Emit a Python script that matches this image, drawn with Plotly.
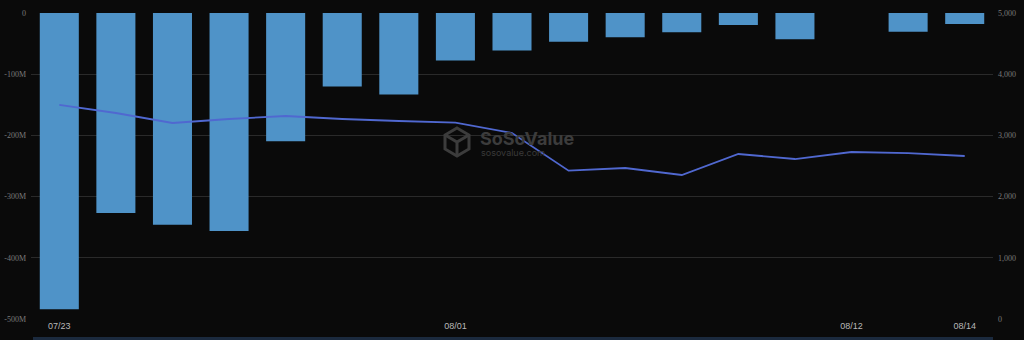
import plotly.graph_objects as go

dates = ["07/23", "07/24", "07/25", "07/26", "07/29", "07/30", "07/31", "08/01",
         "08/02", "08/05", "08/06", "08/07", "08/08", "08/09", "08/12", "08/13", "08/14"]
net_flow = [-484e6, -326.9e6, -346.2e6, -356.3e6, -209.6e6, -120.3e6, -133.3e6, -77.8e6,
            -61.4e6, -46.8e6, -39.7e6, -31.4e6, -19.8e6, -42.8e6, 0, -30.5e6, -18.1e6]
price = [3497, 3366, 3203, 3268, 3317, 3268, 3235, 3208,
         3039, 2423, 2467, 2353, 2696, 2614, 2729, 2712, 2663]

x_ticks = ["07/23", "08/01", "08/12", "08/14"]
left_vals = [0, -100e6, -200e6, -300e6, -400e6, -500e6]
left_text = ["0", "-100M", "-200M", "-300M", "-400M", "-500M"]
right_vals = [0, 1000, 2000, 3000, 4000, 5000]
right_text = ["0", "1,000", "2,000", "3,000", "4,000", "5,000"]

fig = go.Figure()
fig.add_trace(go.Bar(x=dates, y=net_flow, marker=dict(color="#4f93c8", line=dict(width=0)),
                     yaxis="y", hoverinfo="skip"))
fig.add_trace(go.Scatter(x=dates, y=price, mode="lines", line=dict(color="#5068d0", width=1.8),
                         yaxis="y2", hoverinfo="skip"))

fig.update_layout(
    template="none",
    width=1024, height=340,
    margin=dict(l=31, r=31, t=13, b=21, pad=0, autoexpand=False),
    paper_bgcolor="#0a0a0a", plot_bgcolor="#0a0a0a",
    showlegend=False, bargap=0.31,
    xaxis=dict(type="category", tickmode="array", tickvals=x_ticks, ticktext=x_ticks,
               showgrid=False, zeroline=False, showline=False, ticks="", automargin=False,
               tickfont=dict(family="Liberation Sans", size=9, color="#b8b8b8")),
    yaxis=dict(range=[-500e6, 0], tickmode="array", tickvals=left_vals, ticktext=left_text,
               showgrid=True, gridcolor="#2a2a2a", gridwidth=1, zeroline=False, showline=False,
               tickfont=dict(family="Liberation Serif", size=8, color="#7a7a7a"),
               ticks="", ticklabelstandoff=4, automargin=False),
    yaxis2=dict(range=[0, 5000], overlaying="y", side="right", tickmode="array",
                tickvals=right_vals, ticktext=right_text, showgrid=False, zeroline=False,
                showline=False,
                tickfont=dict(family="Liberation Serif", size=8, color="#7a7a7a"),
                ticks="", ticklabelstandoff=4, automargin=False),
)

W, H = 1024 - 62, 340 - 34
def px(xp):
    return (xp - 31) / W
def py(yp):
    return 1 - (yp - 13) / H

# bottom slider strip
fig.add_shape(type="rect", xref="paper", yref="paper", x0=px(33), x1=px(993), y0=py(337), y1=py(341),
              fillcolor="#1b2a3e", line=dict(width=0), layer="below")

# watermark
fig.add_annotation(x=px(478), y=py(138), xref="paper", yref="paper", text="<b>SoSoValue</b>",
                   showarrow=False, font=dict(family="Inter", size=18, color="#3c3c3c"),
                   xanchor="left", yanchor="middle")
fig.add_annotation(x=px(479), y=py(153), xref="paper", yref="paper", text="sosovalue.com",
                   showarrow=False, font=dict(family="Inter", size=9, color="#3a3a3a"),
                   xanchor="left", yanchor="middle")
# cube icon
cx, cy = 457, 142
hexpts = [(cx, cy - 14), (cx + 12, cy - 7), (cx + 12, cy + 7), (cx, cy + 14),
          (cx - 12, cy + 7), (cx - 12, cy - 7)]
path = "M " + " L ".join(f"{px(a)},{py(b)}" for a, b in hexpts) + " Z"
fig.add_shape(type="path", xref="paper", yref="paper", path=path,
              line=dict(color="#3c3c3c", width=3), fillcolor="rgba(0,0,0,0)")
inner = (f"M {px(cx-12)},{py(cy-7)} L {px(cx)},{py(cy)} L {px(cx+12)},{py(cy-7)} "
         f"M {px(cx)},{py(cy)} L {px(cx)},{py(cy+14)}")
fig.add_shape(type="path", xref="paper", yref="paper", path=inner,
              line=dict(color="#3c3c3c", width=3))

fig.write_html("out.html", config={"displayModeBar": False})
